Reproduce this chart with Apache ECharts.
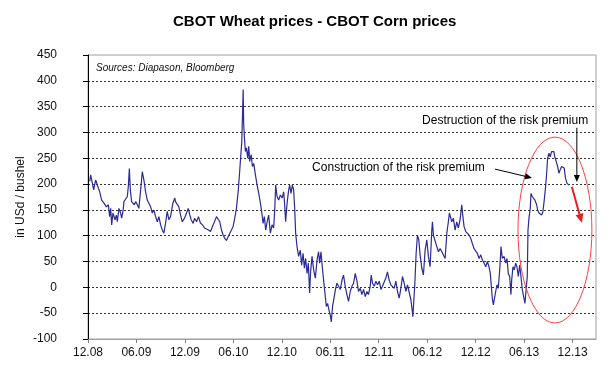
<!DOCTYPE html>
<html>
<head>
<meta charset="utf-8">
<script src="https://cdn.jsdelivr.net/npm/echarts@6/dist/echarts.min.js"></script>
<style>html,body{margin:0;padding:0;background:#fff}#c{width:610px;height:373px}</style>
</head>
<body>
<div id="c"></div>
<script>
// x = months since December 2008, y = spread in USd / bushel
const xTickLabels = ['12.08','06.09','12.09','06.10','12.10','06.11','12.11','06.12','12.12','06.13','12.13'];
const yTicks = [-100,-50,0,50,100,150,200,250,300,350,400,450];
const spread = [
[0.21,205],[0.33,218],[0.54,202],[0.70,189],[0.95,208],[1.08,211],[1.29,192],[1.45,185],[1.69,169],[1.98,163],[2.27,156],[2.52,160],[2.68,137],[2.81,153],[2.93,121],[3.09,144],[3.34,131],[3.51,140],[3.63,127],[3.83,153],[4.04,144],[4.17,134],[4.33,147],[4.45,166],[4.66,163],[4.87,176],[4.99,195],[5.12,230],[5.24,189],[5.40,166],[5.56,169],[5.74,160],[5.90,166],[6.11,160],[6.30,153],[6.48,150],[6.60,202],[6.72,224],[6.92,208],[7.13,185],[7.34,169],[7.54,166],[7.75,156],[7.96,144],[8.16,150],[8.37,137],[8.58,127],[8.78,137],[8.99,121],[9.20,111],[9.39,105],[9.60,124],[9.81,147],[10.01,131],[10.22,137],[10.51,163],[10.75,173],
[10.84,166],[11.05,169],[11.25,156],[11.46,140],[11.67,127],[11.95,134],[12.20,144],[12.41,153],[12.61,140],[12.78,131],[13.03,124],[13.19,134],[13.44,127],[13.68,137],[13.93,124],[14.18,121],[14.43,115],[14.67,118],[14.92,111],[15.17,108],[15.41,118],[15.66,127],[15.91,137],[16.12,140],[16.32,127],[16.53,111],[16.74,101],[16.93,95],[17.14,91],[17.35,98],[17.55,101],[17.76,111],[17.97,118],[18.17,134],[18.38,153],[18.59,185],[18.75,218],[18.88,247],[19.04,282],[19.12,328],[19.21,383],[19.28,315],[19.37,289],[19.49,263],[19.62,270],[19.78,250],[19.90,273],[20.02,244],[20.20,257],[20.36,234],[20.52,240],[20.73,218],[20.94,198],
[21.14,182],[21.35,163],[21.56,140],[21.68,124],[21.84,137],[22.00,111],[22.18,127],[22.37,140],[22.58,105],[22.79,121],[22.99,115],[23.12,150],[23.24,198],[23.41,176],[23.61,169],[23.82,179],[24.03,173],[24.23,185],[24.35,160],[24.47,127],[24.65,163],[24.85,189],[24.97,198],[25.14,182],[25.30,198],[25.46,189],[25.59,153],[25.71,105],[25.88,79],[26.08,60],[26.29,72],[26.45,43],[26.63,66],[26.79,37],[26.95,56],[27.12,27],[27.28,47],[27.44,-11],[27.56,30],[27.74,60],[27.94,34],[28.15,18],[28.36,53],[28.55,69],[28.68,47],[28.85,69],[29.01,40],[29.17,14],[29.34,-11],[29.51,-37],[29.67,-31],[29.84,-44],[30.00,-54],[30.12,-67],[30.28,-37],[30.49,-18],[30.66,-2],[30.83,8],[31.03,2],
[31.24,-4],[31.45,14],[31.64,24],[31.85,2],[32.06,-14],[32.26,-27],[32.47,-8],[32.68,2],[32.88,8],[33.09,27],[33.30,12],[33.50,-8],[33.71,-2],[33.92,-14],[34.12,-4],[34.33,-18],[34.54,-8],[34.73,-14],[34.94,2],[35.07,24],[35.23,8],[35.44,2],[35.65,12],[35.85,5],[36.06,12],[36.27,-4],[36.46,2],[36.67,5],[36.88,18],[37.08,30],[37.29,14],[37.50,5],[37.70,8],[37.91,-2],[38.12,12],[38.32,-8],[38.53,-21],[38.74,-2],[38.94,21],[39.15,8],[39.36,-8],[39.56,5],[39.77,2],[39.98,-24],[40.14,-44],[40.22,-57],[40.35,-24],[40.47,8],[40.63,66],[40.79,101],[40.96,92],[41.12,63],[41.33,37],[41.53,24],
[41.74,72],[41.95,92],[42.15,60],[42.36,40],[42.57,111],[42.65,127],[42.77,101],[42.98,98],[43.19,79],[43.39,69],[43.60,75],[43.81,69],[44.00,72],[44.22,56],[44.43,105],[44.62,127],[44.75,144],[44.87,147],[45.04,127],[45.24,134],[45.45,111],[45.66,127],[45.86,115],[46.07,131],[46.28,160],[46.40,140],[46.56,118],[46.77,108],[46.97,111],[47.18,101],[47.39,95],[47.59,85],[47.80,75],[48.01,75],[48.21,66],[48.42,56],[48.63,63],[48.83,53],[49.04,47],[49.25,40],[49.45,50],[49.65,40],[49.81,27],[49.94,2],[50.06,-21],[50.19,-34],[50.31,-37],[50.48,-8],[50.64,5],[50.80,-2],[50.98,34],
[51.14,79],[51.30,56],[51.51,60],[51.72,47],[51.88,56],[52.04,27],[52.21,21],[52.37,-14],[52.46,14],[52.62,40],[52.78,34],[52.95,47],[53.11,40],[53.28,21],[53.45,43],[53.61,21],[53.77,-4],[53.94,-18],[54.10,-31],[54.26,-34],[54.39,21],[54.48,111],[54.60,134],[54.76,153],[54.85,182],[55.01,176],[55.18,179],[55.34,169],[55.55,160],[55.67,150],[55.84,144],[56.00,147],[56.17,140],[56.33,147],[56.49,169],[56.66,195],[56.79,221],[56.91,250],[57.07,260],[57.23,253],[57.40,263],[57.56,260],[57.68,263],[57.80,253],[57.97,244],[58.15,234],[58.31,221],[58.47,228],[58.64,234],[58.84,237],[58.96,231],[59.13,211],[59.30,202],[59.45,205],[59.54,198]
];
// annotation anchors in data coordinates [month, value]
const notes = {
  construction: {text: 'Construction of the risk premium', at: [27.75, 231]},
  destruction: {text: 'Destruction of the risk premium', at: [41.37, 322]},
  arrow1: [[50.40, 229], [54.97, 212]],
  arrow2: [[60.53, 309], [60.53, 204]],
  redArrow: [[59.91, 195], [61.15, 125]],
  ellipse: {left: 53.24, right: 62.39, top: 291, bottom: -69}
};

const FONT = 'Arial, "Liberation Sans", sans-serif';
const chart = echarts.init(document.getElementById('c'), null, {renderer: 'canvas'});
const xTickValues = xTickLabels.map((_, i) => i * 6);

chart.setOption({
  animation: false,
  backgroundColor: '#fff',
  title: {
    text: 'CBOT Wheat prices - CBOT Corn prices',
    left: 168, top: 9,
    textStyle: {fontFamily: FONT, fontSize: 15, fontWeight: 'bold', color: '#000'}
  },
  grid: {left: 88, right: 14, top: 55, bottom: 34, show: true, borderColor: '#a0a0a0', borderWidth: 1},
  xAxis: {
    type: 'value', min: 0, max: 62.9, interval: 6,
    axisLine: {show: true, onZero: false, lineStyle: {color: '#a0a0a0'}},
    axisTick: {show: true, length: 4, lineStyle: {color: '#808080'}, customValues: xTickValues},
    axisLabel: {
      customValues: xTickValues, margin: 8,
      fontFamily: FONT, fontSize: 12, color: '#111',
      formatter: v => xTickLabels[Math.round(v / 6)] || ''
    },
    splitLine: {show: false}
  },
  yAxis: {
    type: 'value', min: -100, max: 450, interval: 50,
    name: 'in USd / bushel', nameLocation: 'middle', nameGap: 61, nameRotate: 90,
    nameMoveOverlap: false,
    nameTextStyle: {fontFamily: FONT, fontSize: 12, color: '#111'},
    axisLine: {show: true, onZero: false, lineStyle: {color: '#000', width: 1}},
    axisTick: {show: true, length: 5, lineStyle: {color: '#000'}},
    axisLabel: {margin: 31, fontFamily: FONT, fontSize: 12, color: '#111'},
    splitLine: {show: true, showMinLine: false, showMaxLine: false,
      lineStyle: {color: '#333', type: [2, 2], width: 1}}
  },
  series: [{
    type: 'line', data: spread, showSymbol: false, symbol: 'none',
    lineStyle: {color: '#2b2b95', width: 1.2}, z: 5
  }]
});

function px(p) { return chart.convertToPixel({gridIndex: 0}, p); }
function arrow(a, b, color, w, hl, hw) {
  const p0 = px(a), p1 = px(b);
  const dx = p1[0] - p0[0], dy = p1[1] - p0[1];
  const L = Math.sqrt(dx * dx + dy * dy), ux = dx / L, uy = dy / L;
  const bx = p1[0] - ux * hl, by = p1[1] - uy * hl;
  return [
    {type: 'line', shape: {x1: p0[0], y1: p0[1], x2: bx, y2: by}, style: {stroke: color, lineWidth: w}, z: 20},
    {type: 'polygon', shape: {points: [[p1[0], p1[1]], [bx - uy * hw, by + ux * hw], [bx + uy * hw, by - ux * hw]]},
      style: {fill: color}, z: 20}
  ];
}
const e = notes.ellipse;
const eL = px([e.left, 0])[0], eR = px([e.right, 0])[0];
const eT = px([0, e.top])[1], eB = px([0, e.bottom])[1];
const c1 = px(notes.construction.at), c2 = px(notes.destruction.at);
const graphics = [
  {type: 'text', x: 96, y: 63, style: {text: 'Sources: Diapason, Bloomberg', fontFamily: FONT, fontSize: 10, fontStyle: 'italic', fill: '#111'}, z: 20},
  {type: 'text', x: c1[0], y: c1[1], style: {text: notes.construction.text, fontFamily: FONT, fontSize: 12, fill: '#000', verticalAlign: 'middle', backgroundColor: '#fff'}, z: 20},
  {type: 'text', x: c2[0], y: c2[1], style: {text: notes.destruction.text, fontFamily: FONT, fontSize: 12, fill: '#000', verticalAlign: 'middle', backgroundColor: '#fff'}, z: 20},
  {type: 'ellipse', shape: {cx: (eL + eR) / 2, cy: (eT + eB) / 2, rx: (eR - eL) / 2, ry: (eB - eT) / 2},
    style: {fill: null, stroke: '#ff4040', lineWidth: 1}, z: 15}
].concat(arrow(notes.arrow1[0], notes.arrow1[1], '#000', 1, 7, 3))
 .concat(arrow(notes.arrow2[0], notes.arrow2[1], '#000', 1, 7, 3))
 .concat(arrow(notes.redArrow[0], notes.redArrow[1], '#e81e1e', 2, 9, 4));
chart.setOption({graphic: graphics});
</script>
</body>
</html>
